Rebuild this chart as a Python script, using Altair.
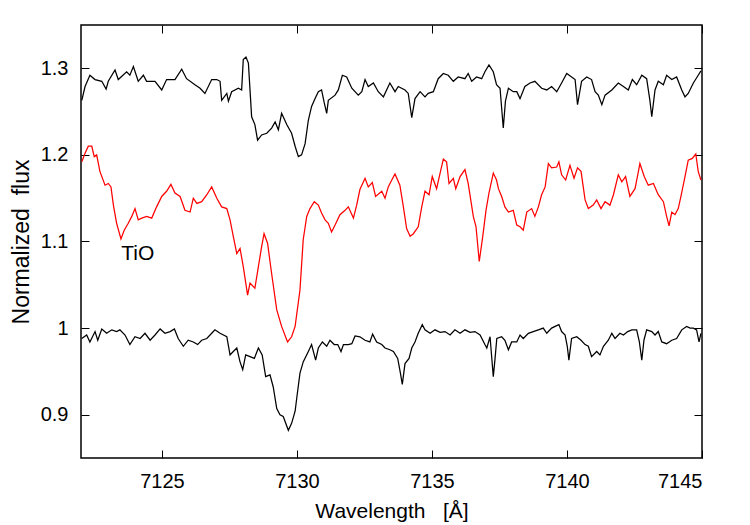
import altair as alt
import pandas as pd

# ---- data ----
TOP_WL = [7122.03, 7122.15, 7122.33, 7122.52, 7122.77, 7122.93, 7123.01, 7123.26, 7123.38, 7123.69,
          7123.81, 7123.94, 7124.12, 7124.31, 7124.43, 7124.74, 7124.99, 7125.17, 7125.48, 7125.73,
          7125.91, 7126.22, 7126.41, 7126.59, 7126.84, 7127.03, 7127.15, 7127.21, 7127.40, 7127.46,
          7127.58, 7127.83, 7127.95, 7128.01, 7128.11, 7128.20, 7128.32, 7128.44, 7128.54, 7128.69,
          7128.88, 7129.06, 7129.19, 7129.31, 7129.43, 7129.62, 7129.80, 7129.93, 7130.05, 7130.17,
          7130.30, 7130.42, 7130.54, 7130.67, 7130.79, 7130.91, 7131.01, 7131.10, 7131.16, 7131.41,
          7131.53, 7131.68, 7131.84, 7132.03, 7132.27, 7132.40, 7132.52, 7132.64, 7132.83, 7133.01,
          7133.20, 7133.44, 7133.63, 7133.75, 7134.00, 7134.12, 7134.19, 7134.25, 7134.37, 7134.56,
          7134.74, 7134.86, 7135.05, 7135.23, 7135.42, 7135.60, 7135.79, 7135.97, 7136.22, 7136.34,
          7136.47, 7136.65, 7136.84, 7136.96, 7137.11, 7137.27, 7137.39, 7137.52, 7137.64, 7137.72,
          7137.83, 7138.01, 7138.14, 7138.26, 7138.44, 7138.63, 7138.81, 7139.06, 7139.25, 7139.43,
          7139.62, 7139.80, 7139.99, 7140.17, 7140.30, 7140.39, 7140.54, 7140.73, 7140.91, 7141.04,
          7141.16, 7141.29, 7141.41, 7141.66, 7141.90, 7142.09, 7142.27, 7142.42, 7142.58, 7142.77,
          7142.95, 7143.07, 7143.14, 7143.26, 7143.38, 7143.57, 7143.69, 7143.88, 7144.06, 7144.25,
          7144.37, 7144.49, 7144.68, 7144.86, 7144.96]
TOP_FLUX = [1.263, 1.279, 1.292, 1.287, 1.285, 1.276, 1.285, 1.298, 1.287, 1.296,
            1.292, 1.302, 1.285, 1.292, 1.285, 1.285, 1.275, 1.287, 1.287, 1.299,
            1.288, 1.281, 1.277, 1.271, 1.287, 1.287, 1.285, 1.263, 1.271, 1.262,
            1.273, 1.277, 1.275, 1.310, 1.313, 1.306, 1.244, 1.235, 1.217, 1.223,
            1.225, 1.231, 1.238, 1.229, 1.248, 1.235, 1.225, 1.210, 1.198, 1.200,
            1.213, 1.240, 1.256, 1.265, 1.273, 1.275, 1.260, 1.248, 1.263, 1.269,
            1.275, 1.292, 1.290, 1.277, 1.269, 1.273, 1.287, 1.279, 1.283, 1.273,
            1.267, 1.283, 1.273, 1.279, 1.275, 1.271, 1.256, 1.243, 1.265, 1.273,
            1.267, 1.271, 1.273, 1.288, 1.294, 1.292, 1.285, 1.290, 1.288, 1.294,
            1.285, 1.290, 1.288, 1.296, 1.304, 1.296, 1.281, 1.277, 1.231, 1.262,
            1.277, 1.273, 1.273, 1.265, 1.279, 1.283, 1.285, 1.277, 1.275, 1.279,
            1.273, 1.283, 1.294, 1.290, 1.287, 1.258, 1.285, 1.290, 1.287, 1.273,
            1.269, 1.258, 1.269, 1.275, 1.283, 1.279, 1.275, 1.287, 1.281, 1.292,
            1.288, 1.263, 1.244, 1.275, 1.285, 1.281, 1.292, 1.287, 1.290, 1.275,
            1.267, 1.271, 1.283, 1.292, 1.297]

TIO_WL = [7122.03, 7122.15, 7122.27, 7122.40, 7122.49, 7122.58, 7122.70, 7122.89, 7123.01, 7123.11,
          7123.20, 7123.32, 7123.48, 7123.60, 7123.75, 7123.88, 7124.00, 7124.12, 7124.25, 7124.43,
          7124.62, 7124.80, 7124.99, 7125.17, 7125.33, 7125.48, 7125.67, 7125.85, 7126.04, 7126.16,
          7126.29, 7126.47, 7126.66, 7126.84, 7127.03, 7127.21, 7127.40, 7127.52, 7127.64, 7127.77,
          7127.89, 7128.01, 7128.17, 7128.26, 7128.44, 7128.57, 7128.69, 7128.78, 7128.91, 7129.06,
          7129.25, 7129.43, 7129.65, 7129.80, 7129.93, 7130.11, 7130.23, 7130.36, 7130.48, 7130.64,
          7130.79, 7130.91, 7131.04, 7131.16, 7131.28, 7131.41, 7131.59, 7131.78, 7131.90, 7132.09,
          7132.21, 7132.33, 7132.52, 7132.64, 7132.79, 7132.91, 7133.14, 7133.26, 7133.38, 7133.51,
          7133.63, 7133.81, 7133.94, 7134.06, 7134.19, 7134.31, 7134.49, 7134.62, 7134.74, 7134.89,
          7135.01, 7135.17, 7135.30, 7135.42, 7135.54, 7135.63, 7135.79, 7135.88, 7136.04, 7136.22,
          7136.34, 7136.53, 7136.63, 7136.75, 7136.88, 7137.00, 7137.11, 7137.27, 7137.39, 7137.46,
          7137.58, 7137.70, 7137.83, 7138.01, 7138.14, 7138.26, 7138.38, 7138.51, 7138.69, 7138.81,
          7138.94, 7139.06, 7139.19, 7139.31, 7139.43, 7139.62, 7139.70, 7139.80, 7139.95, 7140.11,
          7140.26, 7140.39, 7140.52, 7140.67, 7140.79, 7140.97, 7141.10, 7141.26, 7141.41, 7141.59,
          7141.72, 7141.90, 7142.03, 7142.17, 7142.33, 7142.52, 7142.62, 7142.70, 7142.86, 7143.01,
          7143.20, 7143.38, 7143.57, 7143.69, 7143.78, 7143.88, 7144.00, 7144.12, 7144.22, 7144.37,
          7144.49, 7144.64, 7144.77, 7144.86, 7144.96]
TIO_FLUX = [1.192, 1.202, 1.210, 1.210, 1.198, 1.200, 1.181, 1.165, 1.167, 1.163,
            1.142, 1.121, 1.103, 1.113, 1.121, 1.129, 1.138, 1.125, 1.127, 1.129,
            1.127, 1.140, 1.152, 1.158, 1.166, 1.156, 1.152, 1.136, 1.134, 1.150,
            1.144, 1.146, 1.154, 1.163, 1.150, 1.140, 1.138, 1.125, 1.106, 1.086,
            1.092, 1.071, 1.038, 1.052, 1.046, 1.071, 1.094, 1.109, 1.098, 1.063,
            1.021, 1.002, 0.984, 0.990, 1.002, 1.044, 1.102, 1.129, 1.138, 1.146,
            1.142, 1.133, 1.125, 1.121, 1.111, 1.119, 1.131, 1.136, 1.140, 1.127,
            1.142, 1.160, 1.173, 1.163, 1.168, 1.152, 1.158, 1.150, 1.163, 1.171,
            1.178, 1.165, 1.140, 1.115, 1.106, 1.109, 1.117, 1.140, 1.158, 1.154,
            1.175, 1.161, 1.179, 1.195, 1.192, 1.167, 1.173, 1.161, 1.175, 1.183,
            1.167, 1.129, 1.117, 1.077, 1.106, 1.136, 1.156, 1.179, 1.171, 1.161,
            1.152, 1.140, 1.134, 1.136, 1.119, 1.117, 1.113, 1.134, 1.138, 1.129,
            1.140, 1.154, 1.163, 1.190, 1.185, 1.186, 1.192, 1.177, 1.171, 1.188,
            1.173, 1.185, 1.181, 1.148, 1.138, 1.142, 1.148, 1.138, 1.146, 1.142,
            1.154, 1.177, 1.169, 1.175, 1.152, 1.161, 1.177, 1.190, 1.175, 1.165,
            1.167, 1.154, 1.146, 1.129, 1.118, 1.134, 1.131, 1.138, 1.152, 1.175,
            1.194, 1.196, 1.201, 1.181, 1.171]

BOT_WL = [7122.03, 7122.21, 7122.33, 7122.52, 7122.62, 7122.77, 7122.95, 7123.14, 7123.32, 7123.44,
          7123.63, 7123.81, 7124.00, 7124.19, 7124.37, 7124.56, 7124.74, 7124.93, 7125.11, 7125.30,
          7125.46, 7125.60, 7125.79, 7125.97, 7126.16, 7126.32, 7126.47, 7126.66, 7126.84, 7126.96,
          7127.15, 7127.40, 7127.52, 7127.64, 7127.77, 7127.89, 7127.99, 7128.10, 7128.26, 7128.42,
          7128.57, 7128.71, 7128.84, 7129.00, 7129.12, 7129.25, 7129.37, 7129.49, 7129.68, 7129.80,
          7129.93, 7129.99, 7130.11, 7130.23, 7130.42, 7130.54, 7130.69, 7130.79, 7130.94, 7131.10,
          7131.22, 7131.38, 7131.51, 7131.63, 7131.72, 7131.90, 7132.03, 7132.15, 7132.33, 7132.52,
          7132.70, 7132.80, 7132.95, 7133.14, 7133.26, 7133.44, 7133.57, 7133.73, 7133.83, 7133.90,
          7134.00, 7134.15, 7134.25, 7134.37, 7134.49, 7134.64, 7134.74, 7134.93, 7135.11, 7135.30,
          7135.48, 7135.67, 7135.85, 7136.04, 7136.22, 7136.41, 7136.59, 7136.78, 7136.96, 7137.03,
          7137.15, 7137.21, 7137.27, 7137.33, 7137.40, 7137.58, 7137.70, 7137.83, 7137.95, 7138.14,
          7138.26, 7138.38, 7138.57, 7138.75, 7138.94, 7139.12, 7139.25, 7139.43, 7139.56, 7139.70,
          7139.80, 7139.93, 7140.01, 7140.07, 7140.17, 7140.36, 7140.52, 7140.67, 7140.79, 7140.91,
          7141.10, 7141.22, 7141.35, 7141.53, 7141.66, 7141.78, 7141.96, 7142.09, 7142.25, 7142.40,
          7142.58, 7142.68, 7142.77, 7142.85, 7142.95, 7143.14, 7143.26, 7143.38, 7143.51, 7143.69,
          7143.88, 7144.06, 7144.25, 7144.43, 7144.56, 7144.68, 7144.80, 7144.89, 7144.96]
BOT_FLUX = [0.988, 0.992, 0.984, 0.996, 0.986, 0.999, 0.994, 0.998, 0.996, 0.998,
            0.992, 0.981, 0.990, 0.988, 0.994, 0.986, 0.992, 0.999, 0.994, 0.996,
            0.999, 0.988, 0.979, 0.986, 0.984, 0.981, 0.986, 0.988, 0.994, 0.998,
            0.994, 0.990, 0.969, 0.973, 0.977, 0.961, 0.952, 0.969, 0.967, 0.965,
            0.977, 0.969, 0.944, 0.946, 0.932, 0.907, 0.900, 0.898, 0.882, 0.890,
            0.904, 0.919, 0.948, 0.961, 0.973, 0.981, 0.963, 0.977, 0.984, 0.979,
            0.986, 0.981, 0.981, 0.973, 0.981, 0.981, 0.982, 0.991, 0.990, 0.986,
            0.984, 0.993, 0.984, 0.981, 0.977, 0.975, 0.973, 0.965, 0.948, 0.935,
            0.959, 0.965, 0.977, 0.984, 0.994, 1.004, 0.998, 0.994, 0.998, 0.995,
            0.996, 0.992, 0.998, 0.994, 0.998, 0.995, 0.996, 0.992, 0.981, 0.977,
            0.990, 0.967, 0.944, 0.963, 0.988, 0.990, 0.986, 0.975, 0.984, 0.984,
            0.992, 0.988, 0.994, 0.996, 0.998, 1.000, 0.994, 1.000, 1.002, 1.004,
            0.996, 0.992, 0.979, 0.963, 0.988, 0.990, 0.986, 0.981, 0.979, 0.967,
            0.973, 0.969, 0.979, 0.986, 0.994, 0.988, 0.994, 0.992, 0.996, 0.998,
            0.998, 0.984, 0.963, 0.986, 0.998, 0.996, 0.992, 0.996, 0.984, 0.982,
            0.986, 0.988, 0.998, 1.002, 1.000, 1.000, 0.998, 0.984, 0.994]

SERIES_NAMES = ["top", "TiO", "bottom"]
SERIES_COLORS = ["#000000", "#ff0000", "#000000"]
X_TICKS = [7125, 7130, 7135, 7140, 7145]
Y_TICKS = [0.9, 1.0, 1.1, 1.2, 1.3]
X_DOMAIN = [7122, 7145]
Y_DOMAIN = [0.85, 1.35]
LABEL_TEXT = ["TiO"]
LABEL_WL = [7124.1]
LABEL_FLUX = [1.086]

rows = []
for name, wl, fl in [("top", TOP_WL, TOP_FLUX), ("TiO", TIO_WL, TIO_FLUX), ("bottom", BOT_WL, BOT_FLUX)]:
    for i, (w, f) in enumerate(zip(wl, fl)):
        rows.append({"series": name, "wl": w, "flux": f, "idx": i})
df = pd.DataFrame(rows)
lab = pd.DataFrame({"text": LABEL_TEXT, "wl": LABEL_WL, "flux": LABEL_FLUX})

FONT = "Liberation Sans"
FS = 20
TFS = 21

xs = alt.Scale(domain=X_DOMAIN, nice=False, zero=False)
ys = alt.Scale(domain=Y_DOMAIN, nice=False, zero=False)

common_axis = dict(grid=False, domain=False, offset=-8, tickSize=8, tickColor="#000",
                   tickWidth=1, labelColor="#000", labelFont=FONT, labelFontSize=FS,
                   titleFont=FONT, titleFontWeight="normal", titleColor="#000")

lines = alt.Chart(df).mark_line(strokeWidth=1.25, clip=True).encode(
    x=alt.X("wl:Q", scale=xs, axis=alt.Axis(values=X_TICKS, format="d",
                                             title="Wavelength\u00a0\u00a0\u00a0[Å]", titleFontSize=TFS,
                                             labelPadding=13, titlePadding=9, **common_axis)),
    y=alt.Y("flux:Q", scale=ys, axis=alt.Axis(values=Y_TICKS, format="~g",
                                               title="Normalized\u00a0\u00a0flux", titleFontSize=23,
                                               labelPadding=13, titlePadding=7, **common_axis)),
    color=alt.Color("series:N", scale=alt.Scale(domain=SERIES_NAMES, range=SERIES_COLORS), legend=None),
    order="idx:Q",
)

mirror_axis = dict(grid=False, domain=False, offset=-8, tickSize=8, tickColor="#000", tickWidth=1,
                   labels=False, title=None)
mirror = alt.Chart(df).mark_line(opacity=0, clip=True).encode(
    x=alt.X("wl:Q", scale=xs, axis=alt.Axis(values=X_TICKS, orient="top", **mirror_axis)),
    y=alt.Y("flux:Q", scale=ys, axis=alt.Axis(values=Y_TICKS, orient="right", **mirror_axis)),
    detail="series:N",
)

text = alt.Chart(lab).mark_text(font=FONT, fontSize=21, color="#000", align="center", baseline="middle").encode(
    x=alt.X("wl:Q", scale=xs, axis=None),
    y=alt.Y("flux:Q", scale=ys, axis=None),
    text="text:N",
)

chart = alt.layer(lines, text, mirror).resolve_axis(x="independent", y="independent").properties(
    width=621, height=433,
    padding={"left": 81, "top": 25, "right": 48, "bottom": 67},
    autosize=alt.AutoSizeParams(type="none"),
    background="#ffffff",
).configure_view(stroke="#000000", strokeWidth=1.5)

chart.save("out.html", embed_options={"renderer": "svg", "actions": False})
